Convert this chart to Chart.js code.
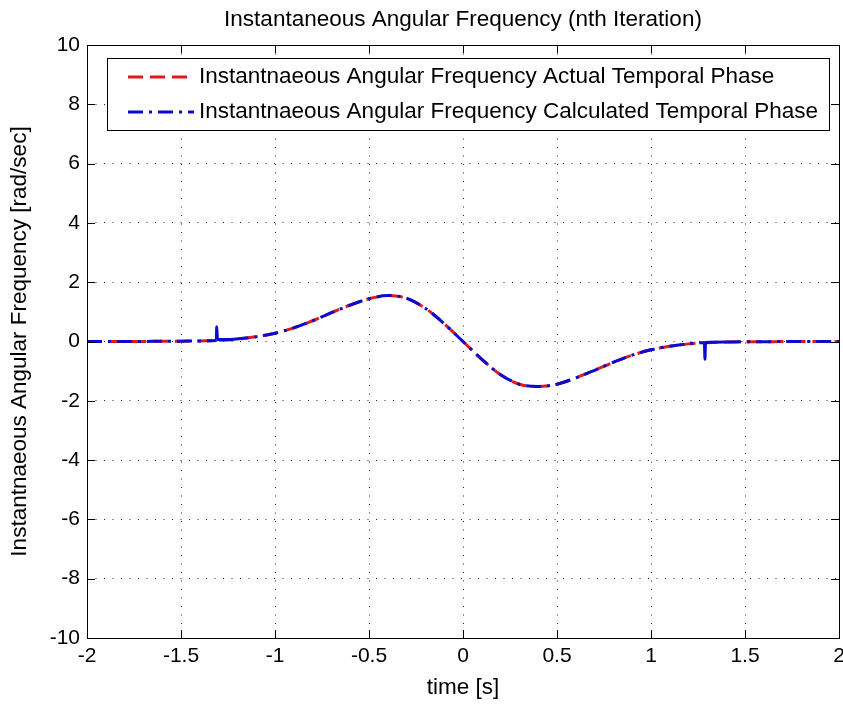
<!DOCTYPE html>
<html>
<head>
<meta charset="utf-8">
<title>Instantaneous Angular Frequency</title>
<script src="https://cdn.jsdelivr.net/npm/chart.js@4.4.1/dist/chart.umd.min.js"></script>
<style>
  html, body { margin: 0; padding: 0; background: #fff; }
  canvas { display: block; }
</style>
</head>
<body>
<canvas id="chartFreq" width="843" height="705"></canvas>
<script>
// time axis [s] and angular frequency [rad/sec]
const timeActual = [-2.0, -1.9, -1.8, -1.7, -1.6, -1.5, -1.4, -1.3, -1.2, -1.1,
  -1.0, -0.9, -0.8, -0.7, -0.6, -0.5, -0.4, -0.3, -0.2, -0.1,
  0.0, 0.1, 0.2, 0.3, 0.4, 0.5, 0.6, 0.7, 0.8, 0.9,
  1.0, 1.1, 1.2, 1.3, 1.4, 1.5, 1.6, 1.7, 1.8, 1.9, 2.0];
const freqActual = [0, 0, 0, 0, 0.01, 0.01, 0.02, 0.04, 0.08, 0.16,
  0.28, 0.46, 0.70, 0.97, 1.23, 1.44, 1.55, 1.46, 1.12, 0.60,
  0, -0.60, -1.12, -1.44, -1.52, -1.44, -1.23, -0.97, -0.70, -0.46,
  -0.28, -0.16, -0.08, -0.04, -0.02, -0.01, -0.01, 0, 0, 0, 0];

// calculated phase has two small unwrapping glitches near +-1.3 s
const timeCalc = [-2.0, -1.9, -1.8, -1.7, -1.6, -1.5, -1.4, -1.312, -1.310, -1.306, -1.22, -1.1,
  -1.0, -0.9, -0.8, -0.7, -0.6, -0.5, -0.4, -0.3, -0.2, -0.1,
  0.0, 0.1, 0.2, 0.3, 0.4, 0.5, 0.6, 0.7, 0.8, 0.9,
  1.0, 1.1, 1.2, 1.284, 1.287, 1.290, 1.4, 1.5, 1.6, 1.7, 1.8, 1.9, 2.0];
const freqCalc = [0, 0, 0, 0, 0.01, 0.01, 0.02, 0.03, 0.50, 0.07, 0.08, 0.16,
  0.28, 0.46, 0.70, 0.97, 1.23, 1.44, 1.55, 1.46, 1.12, 0.60,
  0, -0.60, -1.12, -1.44, -1.52, -1.44, -1.23, -0.97, -0.70, -0.46,
  -0.28, -0.16, -0.08, -0.04, -0.60, -0.03, -0.02, -0.01, -0.01, 0, 0, 0, 0];

const xTicks = [-2, -1.5, -1, -0.5, 0, 0.5, 1, 1.5, 2];
const yTicks = [-10, -8, -6, -4, -2, 0, 2, 4, 6, 8, 10];
const seriesNames = [
  'Instantnaeous Angular Frequency Actual Temporal Phase',
  'Instantnaeous Angular Frequency Calculated Temporal Phase'
];

const fontFamily = "'Liberation Sans', Arial, sans-serif";
const textSize = 22.5;
const tickSize = 21;
const redDash = [15, 7];
const blueDash = [15, 6, 3, 6];

const toPoints = (xs, ys) => xs.map((x, i) => ({ x: x, y: ys[i] }));

// short glitch segments are drawn solid so the dash gaps don't swallow them
const glitchDash = ctx => {
  const t = Math.abs(ctx.p0.parsed.x);
  return (t > 1.28 && t < 1.32) ? [] : undefined;
};

// box, inward tick marks and the boxed legend, drawn like a MATLAB axes
const matlabAxes = {
  id: 'matlabAxes',
  afterDatasetsDraw(chart) {
    const { ctx, chartArea: a, scales: { x, y } } = chart;
    ctx.save();
    ctx.strokeStyle = '#000';
    ctx.lineWidth = 1;
    ctx.beginPath();
    xTicks.forEach(t => {
      const px = Math.round(x.getPixelForValue(t)) + 0.5;
      ctx.moveTo(px, a.bottom); ctx.lineTo(px, a.bottom - 8);
      ctx.moveTo(px, a.top); ctx.lineTo(px, a.top + 8);
    });
    yTicks.forEach(t => {
      const py = Math.round(y.getPixelForValue(t)) + 0.5;
      ctx.moveTo(a.left, py); ctx.lineTo(a.left + 8, py);
      ctx.moveTo(a.right, py); ctx.lineTo(a.right - 8, py);
    });
    ctx.stroke();
    ctx.strokeRect(Math.round(a.left) + 0.5, Math.round(a.top) + 0.5,
      Math.round(a.right - a.left), Math.round(a.bottom - a.top));

    // legend
    const lx = 107.5, ly = 58.5, lw = 722, lh = 72;
    ctx.fillStyle = '#fff';
    ctx.fillRect(lx, ly, lw, lh);
    ctx.strokeRect(lx, ly, lw, lh);
    const rows = [
      { y: 77, color: chart.data.datasets[0].borderColor, dash: redDash },
      { y: 112, color: chart.data.datasets[1].borderColor, dash: blueDash }
    ];
    ctx.font = textSize + 'px ' + fontFamily;
    ctx.textBaseline = 'middle';
    rows.forEach((r, i) => {
      ctx.beginPath();
      ctx.setLineDash(r.dash);
      ctx.lineWidth = 3;
      ctx.strokeStyle = r.color;
      ctx.moveTo(128, r.y);
      ctx.lineTo(194, r.y);
      ctx.stroke();
      ctx.setLineDash([]);
      ctx.fillStyle = '#000';
      ctx.fillText(seriesNames[i], 199, r.y);
    });
    ctx.restore();
  }
};

const chartFreq = new Chart(document.getElementById('chartFreq'), {
  type: 'line',
  data: {
    datasets: [{
      label: seriesNames[0],
      data: toPoints(timeActual, freqActual),
      borderColor: '#e01a1a',
      borderWidth: 3,
      borderDash: redDash,
      pointRadius: 0,
      cubicInterpolationMode: 'monotone',
      order: 2
    }, {
      label: seriesNames[1],
      data: toPoints(timeCalc, freqCalc),
      borderColor: '#0a0ad2',
      borderWidth: 3,
      borderDash: blueDash,
      segment: { borderDash: glitchDash },
      pointRadius: 0,
      cubicInterpolationMode: 'monotone',
      order: 1
    }]
  },
  options: {
    responsive: false,
    animation: false,
    layout: { padding: { left: 0, right: 4, top: 0, bottom: 0 } },
    plugins: {
      legend: { display: false },
      tooltip: { enabled: false },
      title: {
        display: true,
        fullSize: false,
        text: 'Instantaneous Angular Frequency (nth Iteration)',
        color: '#000',
        font: { family: fontFamily, size: textSize, weight: 'normal' },
        padding: { top: 6, bottom: 12 }
      }
    },
    scales: {
      x: {
        type: 'linear',
        min: -2,
        max: 2,
        afterBuildTicks: s => { s.ticks = xTicks.map(v => ({ value: v })); },
        afterFit: s => { s.height = 67; s.paddingLeft = 0; s.paddingRight = 0; },
        ticks: {
          autoSkip: false,
          maxRotation: 0,
          padding: 6,
          color: '#000',
          font: { family: fontFamily, size: tickSize },
          callback: v => String(v)
        },
        grid: { color: 'rgba(0,0,0,0.85)', lineWidth: 1, drawTicks: false },
        border: { display: false, dash: [1, 7.5] },
        title: {
          display: true,
          text: 'time [s]',
          color: '#000',
          font: { family: fontFamily, size: textSize },
          padding: { top: 0, bottom: 3.5 }
        }
      },
      y: {
        type: 'linear',
        min: -10,
        max: 10,
        afterBuildTicks: s => { s.ticks = yTicks.map(v => ({ value: v })); },
        afterFit: s => { s.width = 87; s.paddingTop = 0; s.paddingBottom = 0; },
        ticks: {
          autoSkip: false,
          padding: 7,
          color: '#000',
          font: { family: fontFamily, size: tickSize },
          callback: v => String(v)
        },
        grid: { color: 'rgba(0,0,0,0.85)', lineWidth: 1, drawTicks: false },
        border: { display: false, dash: [1, 7.5] },
        title: {
          display: true,
          text: 'Instantnaeous Angular Frequency [rad/sec]',
          color: '#000',
          font: { family: fontFamily, size: textSize },
          padding: { top: 6.5, bottom: 0 }
        }
      }
    }
  },
  plugins: [matlabAxes]
});
</script>
</body>
</html>
